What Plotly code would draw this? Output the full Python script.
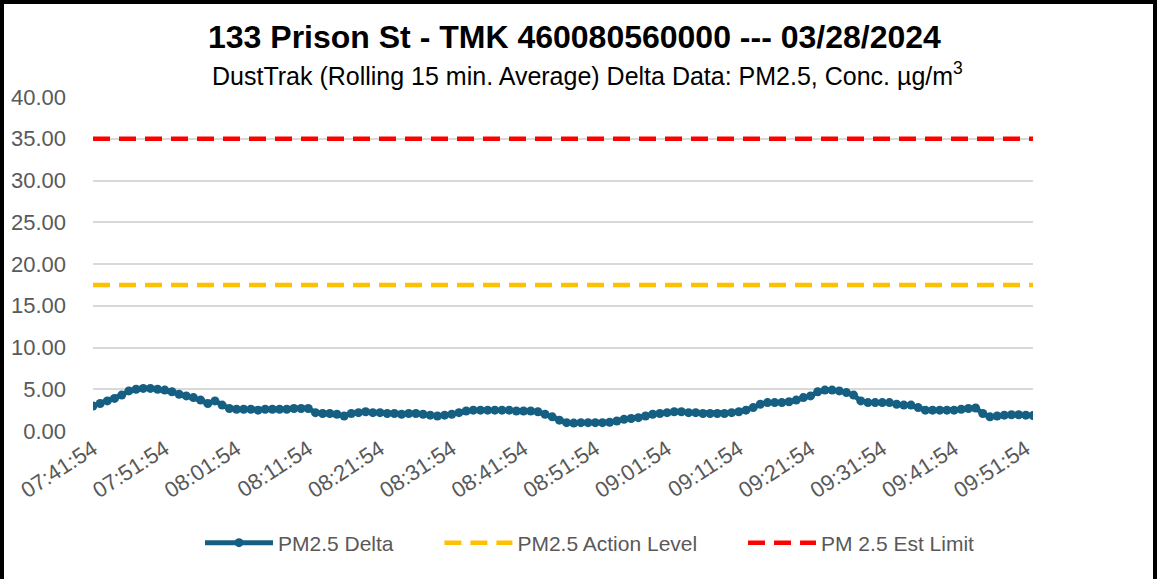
import datetime as dt
import plotly.graph_objects as go

# ---- data ----
start_time = "07:41:54"
pm25_delta = [
    3.0, 3.3, 3.6, 3.9, 4.3, 4.8, 5.0, 5.1, 5.1, 5.0,
    4.9, 4.7, 4.4, 4.2, 4.0, 3.7, 3.3, 3.6, 3.1, 2.7,
    2.6, 2.6, 2.6, 2.5, 2.6, 2.6, 2.6, 2.6, 2.7, 2.7,
    2.7, 2.2, 2.1, 2.1, 2.0, 1.8, 2.1, 2.2, 2.3, 2.2,
    2.2, 2.1, 2.1, 2.0, 2.1, 2.1, 2.0, 1.9, 1.8, 1.9,
    2.0, 2.2, 2.4, 2.5, 2.5, 2.5, 2.5, 2.5, 2.5, 2.4,
    2.4, 2.4, 2.3, 2.0, 1.7, 1.3, 1.0, 0.95, 1.0, 1.0,
    1.0, 1.0, 1.05, 1.2, 1.4, 1.5, 1.6, 1.8, 2.0, 2.1,
    2.2, 2.3, 2.3, 2.2, 2.2, 2.1, 2.1, 2.1, 2.1, 2.2,
    2.3, 2.5, 2.8, 3.2, 3.4, 3.4, 3.4, 3.5, 3.7, 4.0,
    4.2, 4.7, 4.9, 4.9, 4.8, 4.6, 4.3, 3.6, 3.4, 3.4,
    3.4, 3.4, 3.2, 3.1, 3.1, 2.8, 2.5, 2.5, 2.5, 2.5,
    2.5, 2.6, 2.7, 2.75, 2.1, 1.7, 1.8, 1.9, 1.95, 1.95,
    1.9, 1.85,
]
action_level_value = 17.5
est_limit_value = 35.0
tick_labels = ["07:41:54", "07:51:54", "08:01:54", "08:11:54", "08:21:54",
               "08:31:54", "08:41:54", "08:51:54", "09:01:54", "09:11:54",
               "09:21:54", "09:31:54", "09:41:54", "09:51:54"]
y_ticks = [0, 5, 10, 15, 20, 25, 30, 35, 40]
series_names = ["PM2.5 Delta", "PM2.5 Action Level", "PM 2.5 Est Limit"]

# category labels (one reading per minute)
t0 = dt.datetime.strptime(start_time, "%H:%M:%S")
times = [(t0 + dt.timedelta(minutes=i)).strftime("%H:%M:%S") for i in range(len(pm25_delta))]
action_level = [action_level_value] * len(times)
est_limit = [est_limit_value] * len(times)

FONT = "Liberation Sans, Arial, sans-serif"
GRAY = "#595959"
PAD = "\u00a0" * 7  # spacing between legend entries

fig = go.Figure()
fig.add_trace(go.Scatter(
    x=times, y=pm25_delta, name=series_names[0] + PAD, mode="lines+markers",
    line=dict(color="#156082", width=5),
    marker=dict(color="#156082", size=9),
))
fig.add_trace(go.Scatter(
    x=times, y=action_level, name=series_names[1] + PAD, mode="lines",
    line=dict(color="#FFC000", width=4.5, dash="17px,9px"),
))
fig.add_trace(go.Scatter(
    x=times, y=est_limit, name=series_names[2], mode="lines",
    line=dict(color="#FF0000", width=4.5, dash="17px,9px"),
))

W, H = 1161, 579
L, R, T, B = 93, 128, 97, 148
pw, ph = W - L - R, H - T - B

def px_x(x):
    return (x - L) / pw

def px_y(y):
    return (H - B - y) / ph

fig.update_layout(
    width=W, height=H,
    margin=dict(l=L, r=R, t=T, b=B),
    paper_bgcolor="white", plot_bgcolor="white",
    font=dict(family=FONT, color=GRAY, size=21),
    showlegend=True,
    legend=dict(
        orientation="h", x=px_x(590), y=px_y(543), xanchor="center", yanchor="middle",
        font=dict(size=21, color=GRAY), itemwidth=68,
        bgcolor="rgba(0,0,0,0)",
    ),
    xaxis=dict(
        type="category", range=[0, len(times) - 1],
        tickmode="array", tickvals=tick_labels, ticktext=tick_labels,
        tickangle=-33, showgrid=False, showline=False, zeroline=False,
        ticks="", tickfont=dict(size=22, color=GRAY),
    ),
    yaxis=dict(
        range=[0, 40], tickvals=y_ticks, tickformat=".2f",
        showgrid=True, gridcolor="#d9d9d9", gridwidth=2,
        zeroline=False, showline=False, ticks="",
        tickfont=dict(size=22, color=GRAY), ticklabelstandoff=26,
    ),
    annotations=[
        dict(text="<b>133 Prison St - TMK 460080560000 --- 03/28/2024</b>",
             xref="paper", yref="paper", x=px_x(574), y=px_y(37),
             xanchor="center", yanchor="middle", showarrow=False,
             font=dict(size=32, color="black", family=FONT)),
        dict(text="DustTrak (Rolling 15 min. Average) Delta Data: PM2.5, Conc. µg/m<sup>3</sup>",
             xref="paper", yref="paper", x=px_x(587), y=px_y(74),
             xanchor="center", yanchor="middle", showarrow=False,
             font=dict(size=25, color="black", family=FONT)),
    ],
    shapes=[
        dict(type="rect", xref="paper", yref="paper",
             x0=px_x(2), x1=px_x(1155), y0=px_y(590), y1=px_y(2),
             line=dict(color="black", width=4), fillcolor="rgba(0,0,0,0)", layer="above"),
    ],
)

fig.write_html("out.html", config={"displayModeBar": False},
               post_script="document.body.style.margin='0';document.body.style.overflow='hidden';")
